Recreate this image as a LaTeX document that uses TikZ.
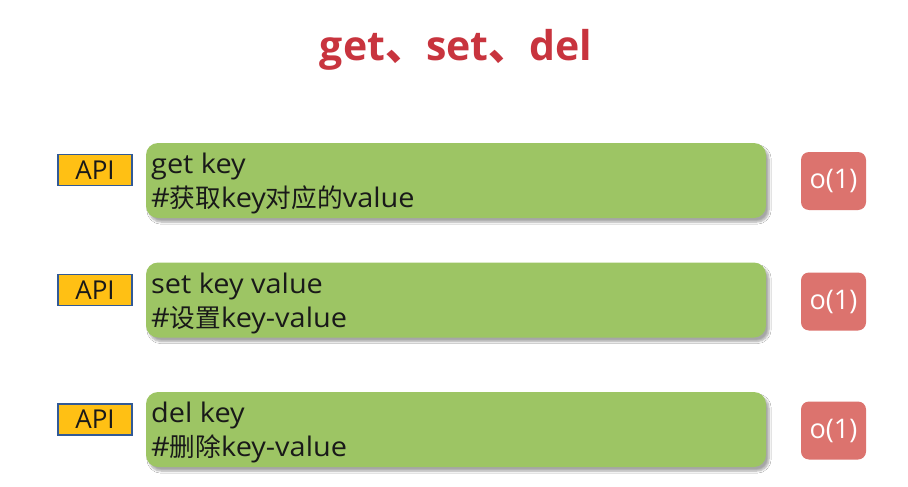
\documentclass[tikz,border=0pt]{standalone}
\usepackage{fontspec}
\setmainfont{Open Sans}
\newfontfamily\latw[FakeStretch=1.07]{Open Sans}
\newfontfamily\zh[Scale=0.95]{Noto Sans CJK SC}
\newfontfamily\zhb{Noto Sans CJK SC Bold}
\usetikzlibrary{shadows.blur}
\definecolor{titlered}{RGB}{200,52,62}
\definecolor{boxgreen}{RGB}{157,197,100}
\definecolor{apiorange}{RGB}{255,192,20}
\definecolor{apiblue}{RGB}{50,90,150}
\definecolor{costred}{RGB}{220,115,110}
\definecolor{txtdark}{RGB}{25,25,25}
\tikzset{
  cmdbox/.style={draw=none, fill=boxgreen, rounded corners=12pt, minimum width=620pt, minimum height=75pt,
    blur shadow={shadow xshift=3pt, shadow yshift=-4pt, shadow blur steps=6, shadow opacity=35}},
  apibox/.style={draw=apiblue, line width=1.5pt, fill=apiorange, minimum width=74pt, minimum height=31pt,
    inner sep=0pt, font=\fontsize{26}{28}\selectfont, text=txtdark},
  costbox/.style={fill=costred, rounded corners=8pt, minimum width=65pt, minimum height=58pt, inner sep=0pt,
    font=\fontsize{27}{29}\selectfont, text=white},
  cmdtext/.style={anchor=base west, inner sep=0pt, font=\latw\fontsize{27}{29}\selectfont, text=txtdark},
}
\begin{document}
\begin{tikzpicture}[x=1pt,y=-1pt]
\useasboundingbox (0,0) rectangle (908,487);
\fill[white] (0,0) rectangle (908,487);
\node[font=\bfseries\fontsize{41}{44}\selectfont, text=titlered, anchor=base] (title) at (456,61) {get{\zhb 、}set{\zhb 、}del};

\node[cmdbox] (g1) at (456,180.5) {};
\node[cmdtext] (g1a) at (151,173) {get key};
\node[cmdtext] (g1b) at (151,207) {\#{\zh 获取}key{\zh 对应的}value};
\node[apibox] (a1) at (95,170) {API};
\node[costbox] (c1) at (833.5,181) {o(1)};

\node[cmdbox] (g2) at (456,300) {};
\node[cmdtext] (g2a) at (151,293) {set key value};
\node[cmdtext] (g2b) at (151,327) {\#{\zh 设置}key-value};
\node[apibox] (a2) at (95,290) {API};
\node[costbox] (c2) at (833.5,301.5) {o(1)};

\node[cmdbox] (g3) at (456,429.5) {};
\node[cmdtext] (g3a) at (151,422) {del key};
\node[cmdtext] (g3b) at (151,456) {\#{\zh 删除}key-value};
\node[apibox] (a3) at (95,419.5) {API};
\node[costbox] (c3) at (833.5,430.5) {o(1)};
\end{tikzpicture}
\end{document}
